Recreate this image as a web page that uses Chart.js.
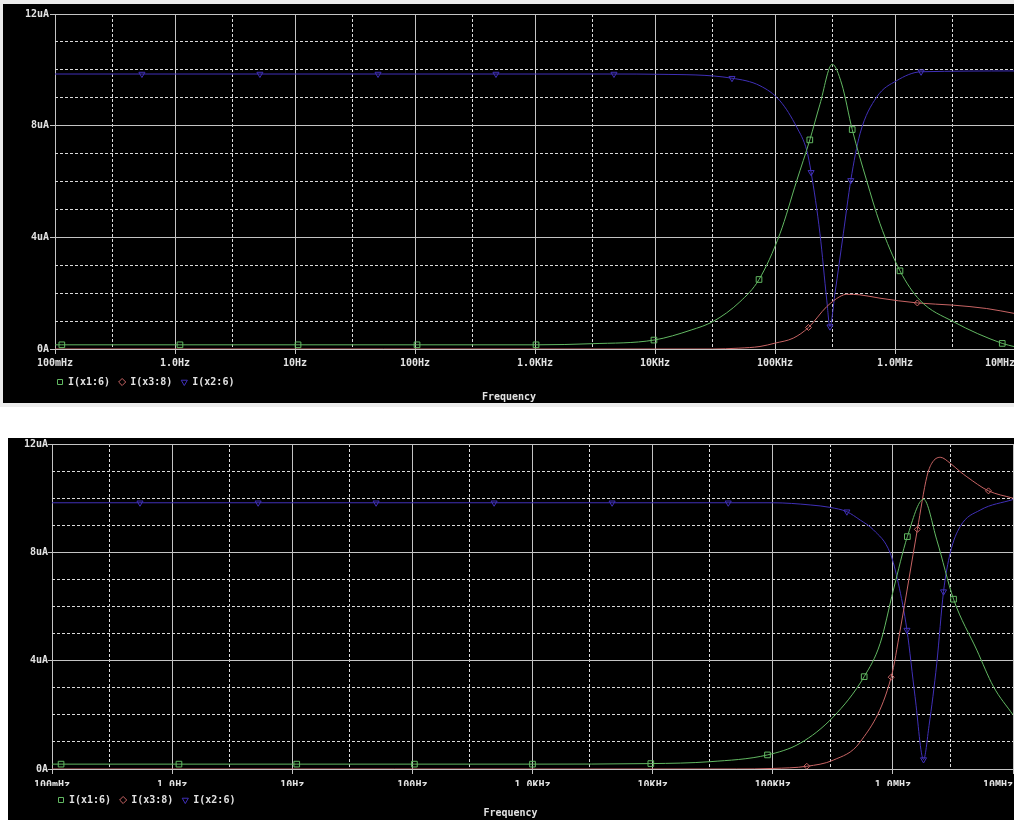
<!DOCTYPE html>
<html>
<head>
<meta charset="utf-8">
<script src="https://cdn.jsdelivr.net/npm/chart.js@4"></script>
<style>
  html, body { margin: 0; padding: 0; overflow: hidden; background: #fff; width: 1014px; height: 820px; }
  .frame { position: absolute; left: 0; top: 0; width: 1014px; height: 407px; background: #ececec; }
  .panel { position: absolute; overflow: hidden; background: #000; }
  #topPanel { left: 3px; top: 4px; width: 1011px; height: 399px; }
  #botPanel { left: 8px; top: 438px; width: 1006px; height: 382px; }
  canvas { display: block; }
</style>
</head>
<body>
<div class="frame"></div>
<div class="panel" id="topPanel"><canvas id="topChart" width="1060" height="399"></canvas></div>
<div class="panel" id="botPanel"><canvas id="botChart" width="1060" height="382"></canvas></div>
<script>
// axis ticks
const freqTicks = [0.1, 1, 10, 100, 1e3, 1e4, 1e5, 1e6, 1e7];
const freqTickLabels = ['100mHz', '1.0Hz', '10Hz', '100Hz', '1.0KHz', '10KHz', '100KHz', '1.0MHz', '10MHz'];
const freqMinorTicks = [0.3, 3, 30, 300, 3e3, 3e4, 3e5, 3e6];
const currentTicks = [0, 4, 8, 12];
const currentTickLabels = ['0A', '4uA', '8uA', '12uA'];
const seriesNames = ['I(x1:6)', 'I(x3:8)', 'I(x2:6)'];

// upper plot (frequency in Hz, current in uA)
const topFreqX1 = [0.1, 0.114, 1.1, 10.6, 104, 1020, 3000, 9800, 20000, 30600, 51000, 73600, 110000, 152000, 195000, 237000, 300000, 360000, 440000, 580000, 750000, 1100000, 1610000, 3060000, 7830000, 1e7];
const topX1 = [0.15, 0.15, 0.15, 0.15, 0.15, 0.15, 0.19, 0.32, 0.68, 0.99, 1.69, 2.49, 4.13, 6.04, 7.49, 8.77, 10.2, 9.49, 7.86, 6.04, 4.49, 2.8, 1.75, 0.98, 0.2, 0.08];
const topMarkX1 = [0.114, 1.1, 10.6, 104, 1020, 9800, 73600, 195000, 440000, 1100000, 7830000];

const topFreqX3 = [0.1, 30000, 50000, 75000, 100000, 142000, 190000, 270000, 348000, 396000, 511000, 750000, 1535000, 3060000, 5810000, 1e7];
const topX3 = [0, 0, 0.03, 0.09, 0.21, 0.39, 0.77, 1.52, 1.88, 1.96, 1.94, 1.82, 1.65, 1.57, 1.45, 1.27];
const topMarkX3 = [190000, 1535000];

const topFreqX2 = [0.1, 0.53, 5.1, 49.2, 473, 4550, 11000, 43800, 75000, 110000, 152000, 184000, 200000, 237000, 270000, 287000, 316000, 371000, 428000, 511000, 703000, 1030000, 1650000, 1e7];
const topX2 = [9.85, 9.85, 9.85, 9.85, 9.85, 9.85, 9.84, 9.7, 9.43, 8.89, 7.94, 7.11, 6.33, 4.13, 1.75, 0.8, 1.99, 4.13, 6.04, 7.71, 9.02, 9.61, 9.93, 9.96];
const topMarkX2 = [0.53, 5.1, 49.2, 473, 4550, 43800, 200000, 287000, 428000, 1650000];

// lower plot
const botFreqX1 = [0.1, 0.119, 1.14, 10.9, 104, 1000, 9660, 30000, 90400, 169000, 320000, 577000, 784000, 1010000, 1320000, 1800000, 2320000, 3200000, 5000000, 6880000, 1e7];
const botX1 = [0.18, 0.18, 0.18, 0.18, 0.18, 0.18, 0.2, 0.27, 0.52, 0.95, 1.93, 3.41, 4.64, 6.61, 8.58, 9.96, 8.46, 6.27, 4.39, 3.04, 2.0];
const botMarkX1 = [0.119, 1.14, 10.9, 104, 1000, 9660, 90400, 577000, 1320000, 3200000];

const botFreqX3 = [0.1, 50000, 100000, 192000, 320000, 535000, 968000, 1150000, 1600000, 1920000, 2110000, 2480000, 3000000, 3630000, 4130000, 6250000, 1e7];
const botX3 = [0, 0, 0.02, 0.1, 0.33, 1.0, 3.39, 5.13, 8.85, 10.8, 11.29, 11.51, 11.29, 10.98, 10.79, 10.27, 10.0];
const botMarkX3 = [192000, 968000, 1600000, 6250000];

const botFreqX2 = [0.1, 0.54, 5.2, 49.9, 479, 4600, 42600, 100000, 205000, 300000, 414000, 535000, 689000, 950000, 1110000, 1310000, 1530000, 1800000, 2000000, 2320000, 2640000, 3000000, 3630000, 5330000, 1e7];
const botX2 = [9.83, 9.83, 9.83, 9.83, 9.83, 9.83, 9.83, 9.83, 9.75, 9.66, 9.5, 9.19, 8.83, 7.97, 6.86, 5.13, 2.67, 0.35, 1.6, 3.9, 6.55, 7.97, 8.95, 9.56, 9.95];
const botMarkX2 = [0.54, 5.2, 49.9, 479, 4600, 42600, 414000, 1310000, 1800000, 2640000];

const textColor = '#e2e2e2';
const solidGrid = '#c4c4c4';
const dashGrid = '#dadada';
const font = { family: 'DejaVu Sans Mono', weight: 'bold', size: 10 };

function pts(freqs, vals) {
    return freqs.map((f, i) => ({ x: f, y: vals[i] }));
}

function trace(label, freqs, vals, marks, color, style, radius, rotation) {
    return {
        label: label,
        data: pts(freqs, vals),
        borderColor: color,
        backgroundColor: 'rgba(0,0,0,0)',
        borderWidth: 1,
        cubicInterpolationMode: 'monotone',
        pointStyle: style,
        pointRotation: rotation || 0,
        pointBorderWidth: 1,
        pointRadius: ctx => (ctx.raw && marks.includes(ctx.raw.x)) ? radius : 0,
        pointHoverRadius: 0
    };
}

function makeChart(id, sets, lay) {
    const ctx = document.getElementById(id).getContext('2d');
    return new Chart(ctx, {
        type: 'line',
        data: {
            datasets: [
                trace(seriesNames[0], sets[0], sets[1], sets[2], '#62b862', 'rect', 4),
                trace(seriesNames[1], sets[3], sets[4], sets[5], '#c86464', 'rectRot', 3),
                trace(seriesNames[2], sets[6], sets[7], sets[8], '#4030b8', 'triangle', 3.5, 180)
            ]
        },
        plugins: [{
            id: 'legendNudge',
            afterLayout(chart) { chart.legend.left -= lay.legendNudge; }
        }],
        options: {
            responsive: false,
            animation: false,
            events: [],
            layout: { padding: { top: lay.top, left: 0, right: lay.right, bottom: 0 } },
            scales: {
                x: {
                    type: 'logarithmic',
                    min: 0.1,
                    max: 1e7,
                    afterBuildTicks: scale => {
                        scale.ticks = freqTicks.concat(freqMinorTicks).sort((a, b) => a - b).map(v => ({ value: v }));
                    },
                    afterFit: scale => { scale.height = lay.xHeight; },
                    ticks: {
                        autoSkip: false,
                        maxRotation: 0,
                        color: textColor,
                        font: font,
                        padding: lay.xPad,
                        callback: v => {
                            const i = freqTicks.indexOf(v);
                            if (i < 0) return '';
                            // last label sits flush left of the axis end
                            return i === freqTicks.length - 1 ? freqTickLabels[i].padEnd(10) : freqTickLabels[i];
                        }
                    },
                    grid: {
                        lineWidth: 1,
                        tickLength: 5,
                        color: c => freqTicks.includes(c.tick.value) ? solidGrid : dashGrid,
                        tickColor: c => freqTicks.includes(c.tick.value) ? solidGrid : 'rgba(0,0,0,0)'
                    },
                    border: {
                        display: false,
                        dash: c => freqTicks.includes(c.tick.value) ? [] : [3, 2]
                    }
                },
                y: {
                    type: 'linear',
                    min: 0,
                    max: 12,
                    afterFit: scale => { scale.width = lay.yWidth; },
                    ticks: {
                        stepSize: 1,
                        color: textColor,
                        font: font,
                        padding: lay.yPad,
                        callback: v => {
                            const i = currentTicks.indexOf(v);
                            return i >= 0 ? currentTickLabels[i] : '';
                        }
                    },
                    grid: {
                        lineWidth: 1,
                        tickLength: lay.yTick,
                        color: c => currentTicks.includes(c.tick.value) ? solidGrid : dashGrid,
                        tickColor: c => currentTicks.includes(c.tick.value) ? solidGrid : 'rgba(0,0,0,0)'
                    },
                    border: {
                        display: false,
                        dash: c => currentTicks.includes(c.tick.value) ? [] : [3, 2]
                    }
                }
            },
            plugins: {
                legend: {
                    position: 'bottom',
                    align: 'start',
                    fullSize: false,
                    labels: {
                        color: textColor,
                        font: font,
                        usePointStyle: true,
                        boxWidth: 6,
                        boxHeight: 5,
                        padding: 9
                    }
                },
                title: {
                    display: true,
                    position: 'bottom',
                    text: 'Frequency',
                    color: textColor,
                    font: font,
                    padding: { top: lay.titleTop, bottom: lay.titleBottom }
                },
                tooltip: { enabled: false }
            }
        }
    });
}

makeChart('topChart',
    [topFreqX1, topX1, topMarkX1, topFreqX3, topX3, topMarkX3, topFreqX2, topX2, topMarkX2],
    { top: 10, right: 48, xHeight: 19, xPad: 3, yWidth: 52, yTick: 5, yPad: 1, titleTop: -6, titleBottom: 0, legendNudge: 7 });

makeChart('botChart',
    [botFreqX1, botX1, botMarkX1, botFreqX3, botX3, botMarkX3, botFreqX2, botX2, botMarkX2],
    { top: 6, right: 55, xHeight: 17, xPad: 5, yWidth: 44, yTick: 4, yPad: 0, titleTop: -8, titleBottom: 1, legendNudge: 3 });
</script>
</body>
</html>
